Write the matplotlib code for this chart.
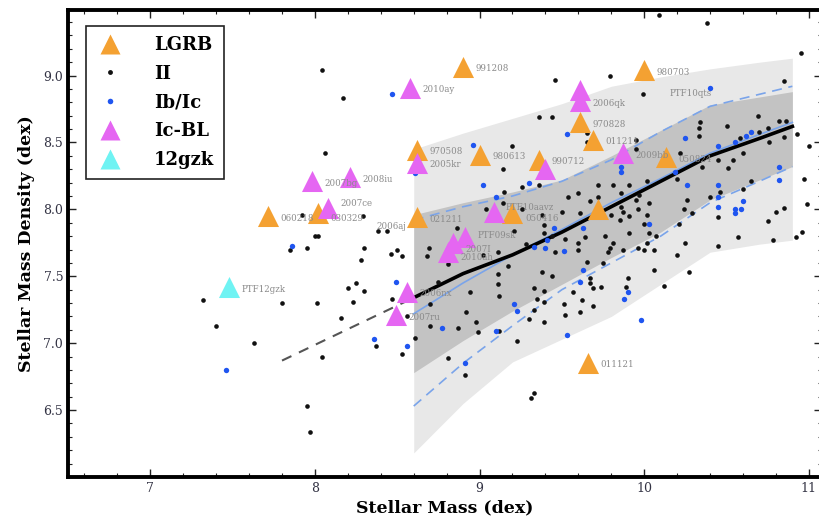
import matplotlib
matplotlib.use("Agg")
import matplotlib.pyplot as plt
from matplotlib.ticker import MultipleLocator
from matplotlib.lines import Line2D

# ---------------- data ----------------
# Type II hosts
ii_x = [7.32, 7.40, 7.63, 7.43, 7.80, 7.85, 7.92, 7.95, 7.95, 7.97, 8.00, 8.02, 8.01, 8.04, 8.04,
        8.06, 8.16, 8.17, 8.20, 8.23, 8.25, 8.28, 8.29, 8.30, 8.30, 8.37, 8.38, 8.44, 8.46, 8.50,
        8.53, 8.53, 8.56, 8.61, 8.68, 8.69, 8.70, 8.70, 8.75, 8.81, 8.81, 8.87, 8.91, 8.92, 8.94,
        8.98, 8.99, 9.00, 9.02, 9.04, 9.11, 9.11, 9.11, 9.12, 9.12, 9.14, 9.14, 9.15, 9.20, 9.23,
        9.26, 9.26, 9.30, 9.31, 9.33, 9.33, 9.33, 9.35, 9.36, 9.36, 9.38, 9.38, 9.39, 9.39, 9.39,
        9.39, 9.39, 9.44, 9.44, 9.44, 9.46, 9.46, 9.50, 9.51, 9.52, 9.52, 9.54, 9.57, 9.60, 9.60,
        9.60, 9.61, 9.61, 9.62, 9.64, 9.65, 9.65, 9.65, 9.67, 9.67, 9.67, 9.69, 9.69, 9.72, 9.72,
        9.74, 9.75, 9.76, 9.78, 9.79, 9.79, 9.80, 9.81, 9.81, 9.85, 9.86, 9.86, 9.87, 9.87, 9.89,
        9.90, 9.91, 9.91, 9.91, 9.95, 9.95, 9.95, 9.96, 9.96, 9.97, 9.99, 10.00, 10.00, 10.02, 10.02,
        10.02, 10.03, 10.03, 10.06, 10.06, 10.07, 10.09, 10.12, 10.20, 10.20, 10.21, 10.22, 10.24,
        10.25, 10.26, 10.27, 10.29, 10.33, 10.33, 10.34, 10.35, 10.38, 10.40, 10.45, 10.45, 10.45,
        10.46, 10.50, 10.51, 10.54, 10.57, 10.58, 10.60, 10.60, 10.65, 10.69, 10.70, 10.75, 10.75,
        10.76, 10.78, 10.80, 10.82, 10.85, 10.85, 10.85, 10.86, 10.92, 10.93, 10.95, 10.96, 10.97,
        10.99, 11.00, 8.47, 8.86, 9.06, 9.21, 9.28, 9.17]
ii_y = [7.32, 7.13, 7.00, 8.43, 7.30, 7.70, 7.96, 7.71, 6.53, 6.34, 7.80, 7.80, 7.30, 9.04, 6.90,
        8.42, 7.19, 8.83, 7.41, 7.31, 7.45, 7.62, 7.95, 7.71, 7.39, 6.98, 7.84, 7.84, 7.67, 7.70,
        7.65, 6.92, 7.20, 7.04, 7.65, 7.71, 7.29, 7.13, 7.46, 7.59, 6.89, 7.11, 6.76, 7.23, 7.38,
        7.16, 7.08, 8.44, 7.66, 8.00, 7.68, 7.52, 7.44, 7.35, 7.09, 8.30, 8.05, 8.13, 8.47, 7.02,
        8.17, 8.00, 7.18, 6.59, 6.63, 7.41, 7.25, 7.33, 8.69, 8.18, 7.96, 7.53, 7.88, 7.82, 7.39,
        7.31, 7.16, 8.69, 7.80, 7.50, 8.97, 7.68, 7.98, 7.29, 7.21, 7.78, 8.09, 7.38, 8.12, 7.70,
        7.75, 7.97, 7.23, 7.32, 7.79, 8.57, 8.50, 7.61, 8.06, 7.49, 7.45, 7.41, 7.28, 8.18, 8.09,
        7.42, 7.60, 7.80, 7.68, 9.00, 7.71, 7.96, 8.18, 7.75, 7.92, 8.12, 8.02, 7.70, 7.98, 7.42,
        7.49, 8.18, 7.95, 7.82, 8.07, 8.52, 8.45, 7.71, 8.00, 8.11, 8.86, 7.70, 7.89, 8.21, 7.96,
        7.75, 8.05, 7.82, 7.55, 7.70, 7.80, 9.45, 7.43, 8.23, 7.66, 7.89, 8.42, 8.00,
        7.75, 8.07, 7.53, 7.97, 8.61, 8.55, 8.65, 8.32, 9.39, 8.09, 8.37, 7.94, 7.73,
        8.13, 8.62, 8.31, 8.37, 7.79, 8.53, 8.42, 8.15, 8.21, 8.70, 8.58, 8.61, 7.91,
        8.50, 7.77, 7.98, 8.66, 8.96, 8.54, 8.01, 8.66, 7.79, 8.56, 9.17, 7.83, 8.23,
        8.04, 8.47, 7.33, 7.86, 7.92, 7.84, 7.74, 7.58]

# Type Ib/Ic hosts
ibc_x = [7.46, 7.86, 8.47, 8.49, 8.36, 8.56, 8.61, 8.77, 8.91, 8.96, 9.02, 9.10, 9.10, 9.21, 9.23,
         9.30, 9.33, 9.40, 9.41, 9.45, 9.51, 9.53, 9.53, 9.61, 9.63, 9.63, 9.86, 9.86, 9.88, 9.90,
         9.98, 10.03, 10.19, 10.25, 10.26, 10.40, 10.45, 10.45, 10.45, 10.45, 10.55, 10.55, 10.55,
         10.59, 10.60, 10.62, 10.65, 10.82, 10.82]
ibc_y = [6.80, 7.73, 8.86, 7.46, 7.03, 6.98, 8.27, 7.11, 6.85, 8.48, 8.18, 8.09, 7.09, 7.29, 7.24,
         8.20, 7.72, 7.71, 7.77, 7.86, 7.69, 8.56, 7.06, 7.46, 7.55, 7.86, 8.32, 8.28, 7.33, 7.38,
         7.17, 7.89, 8.28, 8.53, 8.18, 8.91, 8.47, 8.18, 8.09, 8.02, 8.50, 8.00, 7.97,
         8.00, 8.06, 8.55, 8.58, 8.32, 8.22]

# LGRB hosts
lgrb_x = [7.715, 8.02, 8.62, 8.90, 9.00, 9.36, 8.62, 9.20, 9.61, 9.69, 10.00, 10.13, 9.72, 9.66]
lgrb_y = [7.95, 7.97, 8.445, 9.065, 8.41, 8.37, 7.94, 7.97, 8.65, 8.52, 9.04, 8.39, 8.00, 6.855]
lgrb_labels = ["060218", "030329", "970508", "991208", "980613", "990712", "021211", "050416",
               "970828", "011211", "980703", "050824", "", "011121"]

# Ic-BL hosts
icbl_x = [7.98, 8.21, 8.08, 8.58, 8.62, 9.40, 9.09, 8.91, 8.84, 8.81, 9.61, 9.61, 9.87, 8.56, 8.49]
icbl_y = [8.21, 8.24, 8.01, 8.91, 8.35, 8.30, 7.98, 7.79, 7.75, 7.68, 8.89, 8.81, 8.42, 7.385, 7.21]
icbl_labels = ["2007bg", "2008iu", "2007ce", "2010ay", "2005kr", "", "PTF10aavz", "PTF09sk",
               "2007I", "2010ah", "", "2006qk", "2009bb", "2006nx", "2007ru"]

# SN 2012gzk
gzk_x = [7.48]
gzk_y = [7.42]
gzk_labels = ["PTF12gzk"]

# labels without a visible marker
extra_labels = ["2006aj", "PTF10qts"]
extra_x = [8.30, 10.08]
extra_y = [7.89, 8.88]

# host-galaxy distribution (percentile bands) vs stellar mass
band_x = [8.6, 8.9, 9.2, 9.5, 9.8, 10.1, 10.4, 10.7, 10.9]
outer_hi = [8.45, 8.57, 8.68, 8.79, 8.92, 8.99, 9.05, 9.10, 9.13]
inner_hi = [7.96, 8.05, 8.13, 8.22, 8.40, 8.59, 8.78, 8.84, 8.88]
median = [7.34, 7.52, 7.66, 7.83, 8.02, 8.21, 8.40, 8.53, 8.62]
inner_lo = [6.78, 7.02, 7.24, 7.44, 7.64, 7.83, 8.07, 8.22, 8.32]
outer_lo = [6.18, 6.55, 6.86, 7.03, 7.20, 7.44, 7.68, 7.74, 7.77]
# Ib/Ic-weighted curves
ibc_med = [7.22, 7.45, 7.66, 7.85, 8.05, 8.23, 8.42, 8.56, 8.65]
ibc_hi = [7.92, 8.02, 8.10, 8.21, 8.37, 8.58, 8.77, 8.86, 8.92]
ibc_lo = [6.53, 6.85, 7.13, 7.40, 7.60, 7.80, 8.05, 8.21, 8.32]
# extrapolation
ext_x = [7.80, 8.60]
ext_y = [6.87, 7.34]

# ---------------- style ----------------
C_LGRB = "#f4a132"
C_ICBL = "#e566f2"
C_GZK = "#6ff3f3"
C_IBC = "#1f55f0"
C_BLUE_LINE = "#7aa4ea"
SERIF = ["DejaVu Serif"]
# per-label nudges (points) to reduce collisions, as in the original
label_nudge = {"2007ce": (9, 3), "030329": (9, -3.5), "PTF10aavz": (8, 3), "050416": (9, -4),
               "PTF09sk": (9, 1.5), "2007I": (9, -4.5), "2010ah": (9, -4)}

plt.rcParams["font.family"] = SERIF
fig = plt.figure(figsize=(8.19, 5.23), dpi=100)
ax = fig.add_axes([68 / 819, 46 / 523, 754 / 819, 467 / 523])

ax.fill_between(band_x, outer_lo, outer_hi, color="#e8e8e8", lw=0, zorder=1)
ax.fill_between(band_x, inner_lo, inner_hi, color="#c3c3c3", lw=0, zorder=2)
ax.plot(band_x, ibc_hi, color=C_BLUE_LINE, lw=1.2, dashes=(6, 4), zorder=3)
ax.plot(band_x, ibc_lo, color=C_BLUE_LINE, lw=1.2, dashes=(6, 4), zorder=3)
ax.plot(band_x, ibc_med, color=C_BLUE_LINE, lw=1.2, zorder=3)
ax.plot(band_x, median, color="black", lw=2.6, zorder=4)
ax.plot(ext_x, ext_y, color="#555555", lw=1.5, dashes=(5, 4), zorder=4)

ax.scatter(ii_x, ii_y, s=11, c="#111111", marker="o", lw=0, zorder=5)
ax.scatter(ibc_x, ibc_y, s=15, c=C_IBC, marker="o", lw=0, zorder=5)

tri_s = 230
ax.scatter(lgrb_x, lgrb_y, s=tri_s, c=C_LGRB, marker="^", lw=0, zorder=6)
ax.scatter(icbl_x, icbl_y, s=tri_s, c=C_ICBL, marker="^", lw=0, zorder=6)
ax.scatter(gzk_x, gzk_y, s=tri_s, c=C_GZK, marker="^", lw=0, zorder=6)

lab_kw = dict(textcoords="offset points", va="center", ha="left",
              fontsize=6.2, color="#8a8a8a", zorder=7)
for xs, ys, labs in [(lgrb_x, lgrb_y, lgrb_labels), (icbl_x, icbl_y, icbl_labels),
                     (gzk_x, gzk_y, gzk_labels)]:
    for x, y, t in zip(xs, ys, labs):
        if t:
            ax.annotate(t, (x, y), xytext=label_nudge.get(t, (9, -1.5)), **lab_kw)
for x, y, t in zip(extra_x, extra_y, extra_labels):
    ax.annotate(t, (x, y), xytext=(9, -1.5), **lab_kw)

ax.set_xlim(6.5, 11.08)
ax.set_ylim(6.0, 9.49)
ax.xaxis.set_major_locator(MultipleLocator(1))
ax.xaxis.set_minor_locator(MultipleLocator(0.2))
ax.yaxis.set_major_locator(MultipleLocator(0.5))
ax.yaxis.set_minor_locator(MultipleLocator(0.1))
ax.set_yticks([6.5, 7.0, 7.5, 8.0, 8.5, 9.0])
ax.set_yticklabels(["6.5", "7.0", "7.5", "8.0", "8.5", "9.0"])
ax.tick_params(which="both", direction="in", top=True, right=True, colors="#222222",
               labelsize=9, labelcolor="#333344")
ax.tick_params(which="major", length=6, width=1.0)
ax.tick_params(which="minor", length=3, width=0.8)
for sp in ax.spines.values():
    sp.set_linewidth(2.8)

ax.set_xlabel("Stellar Mass (dex)", fontsize=12.5, fontweight="bold", labelpad=3)
ax.set_ylabel("Stellar Mass Density (dex)", fontsize=12.5, fontweight="bold", labelpad=6)

handles = [
    Line2D([], [], ls="", marker="^", ms=15, mfc=C_LGRB, mec="none"),
    Line2D([], [], ls="", marker="o", ms=3.5, mfc="#111111", mec="none"),
    Line2D([], [], ls="", marker="o", ms=4, mfc=C_IBC, mec="none"),
    Line2D([], [], ls="", marker="^", ms=15, mfc=C_ICBL, mec="none"),
    Line2D([], [], ls="", marker="^", ms=15, mfc=C_GZK, mec="none"),
]
leg = ax.legend(handles, ["LGRB", "II", "Ib/Ic", "Ic-BL", "12gzk"], loc="upper left",
                bbox_to_anchor=(0.012, 0.985), fancybox=False, framealpha=1,
                edgecolor="#222222", prop={"family": SERIF, "size": 13, "weight": "bold"},
                handletextpad=1.6, labelspacing=0.6, borderpad=0.55, handlelength=1.6)
leg.get_frame().set_linewidth(1.2)
leg.set_zorder(10)

fig.savefig("out.png", dpi=100)
